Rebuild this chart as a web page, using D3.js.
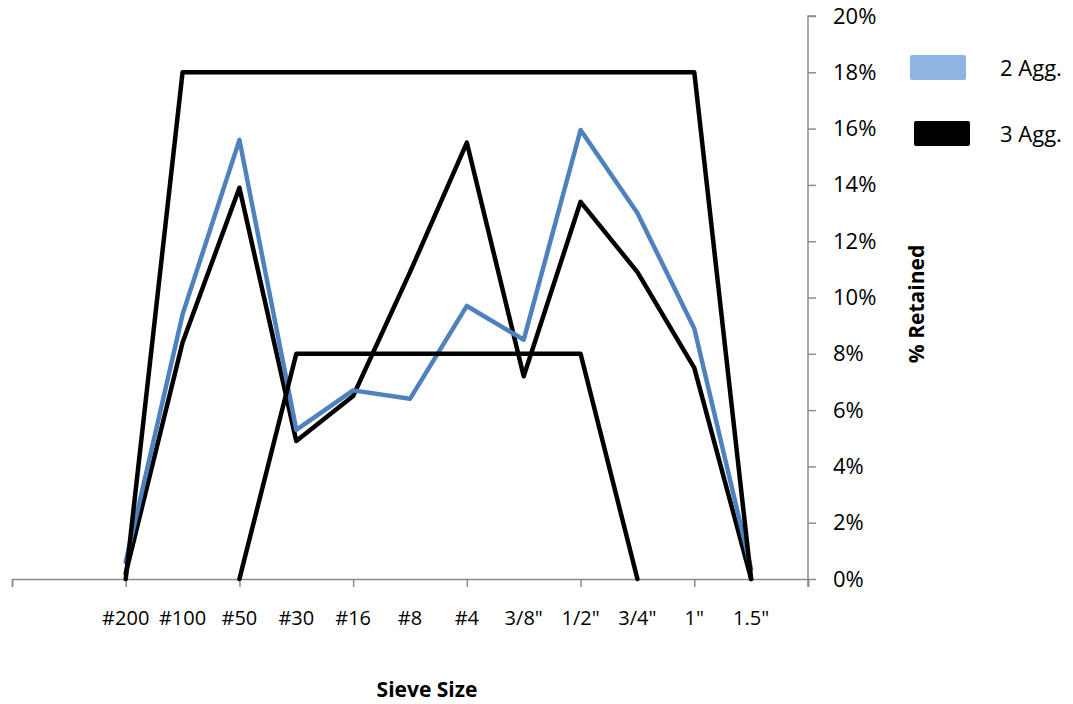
<!DOCTYPE html>
<html>
<head>
<meta charset="utf-8">
<script src="https://cdn.jsdelivr.net/npm/d3@7"></script>
<style>
  html, body { margin: 0; padding: 0; background: #fff; }
  svg { display: block; }
  text { font-family: "Open Sans", "Noto Sans", sans-serif; fill: #000; }
</style>
</head>
<body>
<svg id="chart" width="1073" height="704"></svg>
<script>
// Sieve sizes along the x axis (fine to coarse)
const sieves = ["#200", "#100", "#50", "#30", "#16", "#8", "#4", "3/8\"", "1/2\"", "3/4\"", "1\"", "1.5\""];

// Percent retained on each sieve
const twoAgg   = [0.6, 9.4, 15.6, 5.3, 6.7, 6.4, 9.7, 8.5, 15.95, 13.0, 8.9, 0.35];
const threeAgg = [0.2, 8.4, 13.9, 4.9, 6.5, 10.9, 15.5, 7.2, 13.4, 10.9, 7.5, 0];

// Specification band: upper and lower limit lines (null = not drawn)
const upperLimit = [0, 18, 18, 18, 18, 18, 18, 18, 18, 18, 18, 0];
const lowerLimit = [null, null, 0, 8, 8, 8, 8, 8, 8, 0, null, null];

// Y axis tick values (percent)
const yTicks = [0, 2, 4, 6, 8, 10, 12, 14, 16, 18, 20];

const legendItems = [
  { name: "2 Agg.", swatch: "#8eb4e3" },
  { name: "3 Agg.", swatch: "#000000" }
];

const svg = d3.select("#chart");
const axisColor = "#8c8c8c";

// Category slots: two empty slots before #200 and one after 1.5"
const x = d3.scaleLinear().domain([-2, sieves.length]).range([12, 808]);
const y = d3.scaleLinear().domain([0, 20]).range([579, 16]);

// X axis: baseline with a tick every second slot, labels on every sieve
const xAxisTicks = d3.range(-2, sieves.length + 1, 2);
const gx = svg.append("g").attr("transform", `translate(0,${y(0)})`);
gx.call(d3.axisBottom(x).tickValues(xAxisTicks).tickFormat("").tickSizeInner(8).tickSizeOuter(8));
gx.selectAll("path, line").attr("stroke", axisColor).attr("stroke-width", 1.5);

svg.append("g").selectAll("text").data(sieves).join("text")
  .attr("x", (d, i) => x(i))
  .attr("y", 625)
  .attr("text-anchor", "middle")
  .style("font-size", "20px")
  .text(d => d);

// Y axis on the right
const gy = svg.append("g").attr("transform", `translate(${x(sieves.length)},0)`);
gy.call(d3.axisRight(y).tickValues(yTicks).tickFormat(d => d + "%").tickSizeInner(8).tickSizeOuter(8).tickPadding(17));
gy.selectAll("path, line").attr("stroke", axisColor).attr("stroke-width", 1.5);
gy.selectAll("text").style("font-size", "22px").attr("fill", "#000").style("font-family", "\"Open Sans\", sans-serif");
gy.select(".domain").attr("d", `M8,${y(20)}H0V${y(0) + 8}`);

// Axis titles
svg.append("text")
  .attr("x", 427).attr("y", 697)
  .attr("text-anchor", "middle")
  .style("font-size", "21px").style("font-weight", "bold")
  .text("Sieve Size");

svg.append("text")
  .attr("transform", "translate(924,304) rotate(-90)")
  .attr("text-anchor", "middle")
  .style("font-size", "21px").style("font-weight", "bold")
  .text("% Retained");

// Lines
const line = d3.line()
  .defined(d => d != null)
  .x((d, i) => x(i))
  .y(d => y(d));

const plot = svg.append("g")
  .attr("fill", "none")
  .attr("stroke-width", 4.5)
  .attr("stroke-linejoin", "round")
  .attr("stroke-linecap", "round");

plot.append("path").datum(threeAgg).attr("d", line).attr("stroke", "#000");
plot.append("path").datum(twoAgg).attr("d", line).attr("stroke", "#4f81bd");
plot.append("path").datum(upperLimit).attr("d", line).attr("stroke", "#000");
plot.append("path").datum(lowerLimit).attr("d", line).attr("stroke", "#000");

// Legend
const legend = svg.append("g");
legendItems.forEach((item, k) => {
  const g = legend.append("g").attr("transform", `translate(${910 + k * 4},${55 + k * 66})`);
  g.append("rect").attr("width", 56).attr("height", 25).attr("rx", 2)
    .attr("fill", item.swatch);
  g.append("text").attr("x", 90 - k * 4).attr("y", 21)
    .style("font-size", "22px").text(item.name);
});
</script>
</body>
</html>
